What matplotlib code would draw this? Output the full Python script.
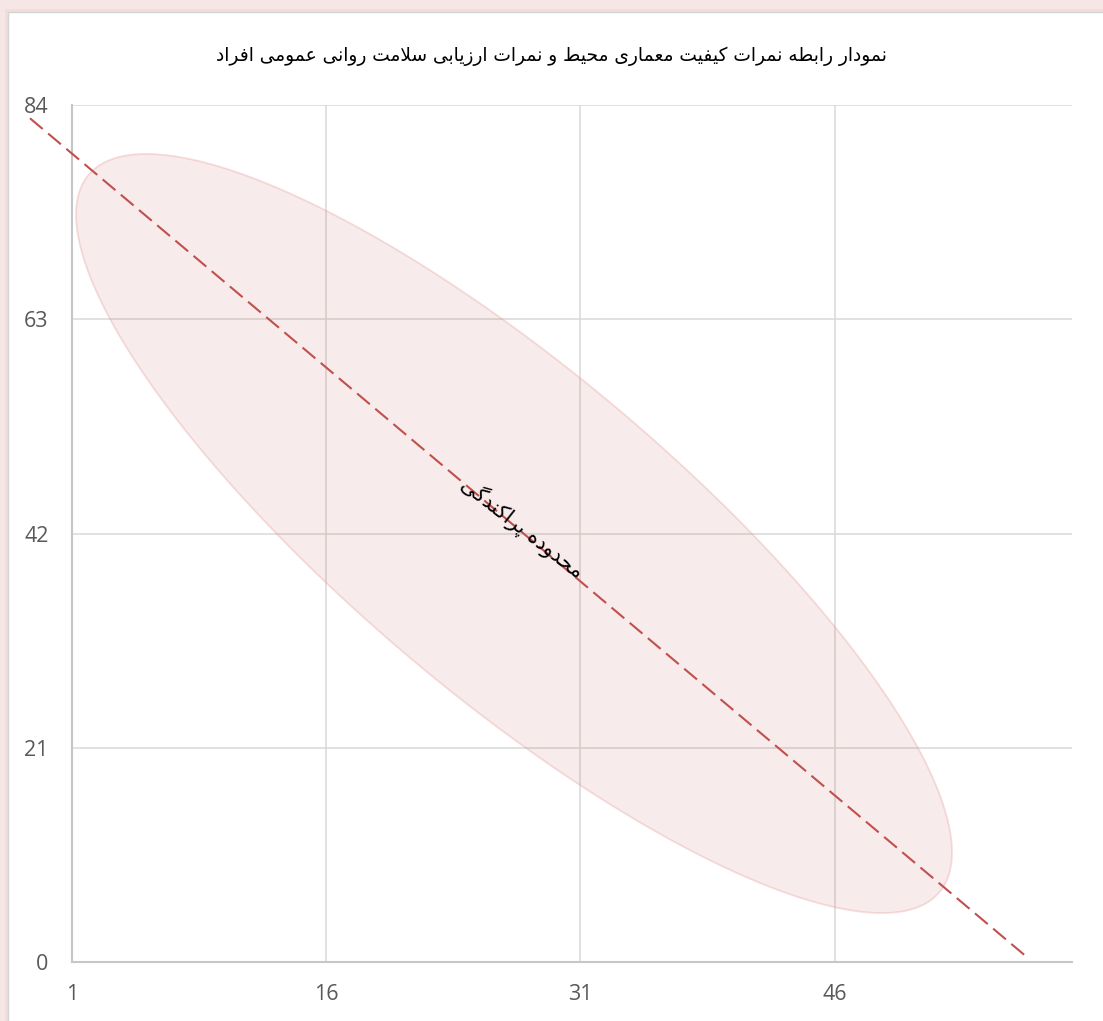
import matplotlib
matplotlib.use("Agg")
import matplotlib.pyplot as plt
import numpy as np
from matplotlib.patches import Rectangle, Polygon

# ---------------- data ----------------
title_text = "نمودار رابطه نمرات کیفیت معماری محیط و نمرات ارزیابی سلامت روانی عمومی افراد"
band_label = "محدوده پراکندگی"
x_ticks = [1, 16, 31, 46]
y_ticks = [0, 21, 42, 63, 84]
x_limits = [1, 60]
y_limits = [0, 84]
trend_x = [-1.48, 57.4]
trend_y = [82.7, 0.4]
ellipse_center = [27.08, 42.0]
ellipse_half_width = 25.84
ellipse_half_height = 37.2
ellipse_corr = -0.84
label_pos = [27.55, 42.6]
label_angle = -38

# ------------- Persian shaping (matplotlib has no text shaping) -------------
FORMS = {
    '\u0627': ('\uFE8D', '\uFE8E', None, None),
    '\u0628': ('\uFE8F', '\uFE90', '\uFE91', '\uFE92'),
    '\u067E': ('\uFB56', '\uFB57', '\uFB58', '\uFB59'),
    '\u062A': ('\uFE95', '\uFE96', '\uFE97', '\uFE98'),
    '\u062D': ('\uFEA1', '\uFEA2', '\uFEA3', '\uFEA4'),
    '\u062F': ('\uFEA9', '\uFEAA', None, None),
    '\u0631': ('\uFEAD', '\uFEAE', None, None),
    '\u0632': ('\uFEAF', '\uFEB0', None, None),
    '\u0633': ('\uFEB1', '\uFEB2', '\uFEB3', '\uFEB4'),
    '\u0637': ('\uFEC1', '\uFEC2', '\uFEC3', '\uFEC4'),
    '\u0639': ('\uFEC9', '\uFECA', '\uFECB', '\uFECC'),
    '\u0641': ('\uFED1', '\uFED2', '\uFED3', '\uFED4'),
    '\u06A9': ('\uFB8E', '\uFB8F', '\uFB90', '\uFB91'),
    '\u06AF': ('\uFB92', '\uFB93', '\uFB94', '\uFB95'),
    '\u0644': ('\uFEDD', '\uFEDE', '\uFEDF', '\uFEE0'),
    '\u0645': ('\uFEE1', '\uFEE2', '\uFEE3', '\uFEE4'),
    '\u0646': ('\uFEE5', '\uFEE6', '\uFEE7', '\uFEE8'),
    '\u0647': ('\uFEE9', '\uFEEA', '\uFEEB', '\uFEEC'),
    '\u0648': ('\uFEED', '\uFEEE', None, None),
    '\u06CC': ('\uFBFC', '\uFBFD', '\uFBFE', '\uFBFF'),
    '\uFEFB': ('\uFEFB', '\uFEFC', None, None),
}


def shape(s):
    s = s.replace('\u064A', '\u06CC').replace('\u0643', '\u06A9')
    s = s.replace('\u0644\u0627', '\uFEFB')
    ch = list(s)
    out = []
    for i, c in enumerate(ch):
        if c not in FORMS:
            out.append(c)
            continue
        f = FORMS[c]
        prev = ch[i - 1] if i > 0 else None
        nxt = ch[i + 1] if i + 1 < len(ch) else None
        jp = prev in FORMS and FORMS[prev][2] is not None
        jn = f[2] is not None and nxt in FORMS
        if jp and jn:
            g = f[3]
        elif jp:
            g = f[1]
        elif jn:
            g = f[2]
        else:
            g = f[0]
        out.append(g)
    return ''.join(reversed(out))


plt.rcParams['font.family'] = ['DejaVu Sans']

W, H = 1103, 1021
fig = plt.figure(figsize=(W / 100, H / 100), dpi=100)
fig.patch.set_facecolor('#F7E6E6')

# frame glow
for inset, col in [(3, '#F3DCDC'), (6, '#EFD3D3')]:
    fig.add_artist(Rectangle(((8 - 6 + inset) / W, 0), 1, (H - 12 + 6 - inset) / H,
                             transform=fig.transFigure, fc=col, ec='none', zorder=0))
fig.add_artist(Rectangle((8 / W, -0.01), 1, (H - 12) / H + 0.01,
                         transform=fig.transFigure, fc='white', ec='#D4D4D4', lw=1, zorder=0))

ax = fig.add_axes([72 / W, 59 / H, 1000 / W, 857 / H])
ax.set_facecolor('none')
ax.set_xlim(*x_limits)
ax.set_ylim(*y_limits)
ax.set_xticks(x_ticks)
ax.set_yticks(y_ticks)
ax.set_axisbelow(True)
ax.grid(True, color='#D9D9D9', lw=1.1)
for s in ['top', 'right']:
    ax.spines[s].set_visible(False)
for s in ['left', 'bottom']:
    ax.spines[s].set_color('#C6C6C6')
    ax.spines[s].set_linewidth(1.5)
ax.tick_params(length=0, labelsize=15.5, labelcolor='#595959')
ax.tick_params(axis='x', pad=16)
ax.tick_params(axis='y', pad=17)
for lab in ax.get_xticklabels() + ax.get_yticklabels():
    lab.set_family(['Open Sans', 'DejaVu Sans'])

# scatter-range ellipse
t = np.linspace(0, 2 * np.pi, 400)
ex = ellipse_center[0] + ellipse_half_width * np.cos(t)
ey = ellipse_center[1] + ellipse_half_height * (ellipse_corr * np.cos(t)
                                               + np.sqrt(1 - ellipse_corr ** 2) * np.sin(t))
ax.add_patch(Polygon(np.column_stack([ex, ey]), closed=True,
                     fc=(0.753, 0.314, 0.302, 0.11), ec=(0.90, 0.60, 0.60, 0.32), lw=1.3, zorder=2))

# trend line
ax.plot(trend_x, trend_y, color='#C0504D', lw=1.5, linestyle=(0, (8, 3.4)),
        clip_on=False, zorder=3)

ax.text(label_pos[0], label_pos[1], shape(band_label), rotation=label_angle,
        rotation_mode='anchor', ha='center', va='center', fontsize=15, color='black', zorder=4)

fig.text(551 / W, (H - 56) / H, shape(title_text), ha='center', va='center',
         fontsize=13.4, color='black')

fig.savefig('out.png', dpi=100, facecolor=fig.get_facecolor())
